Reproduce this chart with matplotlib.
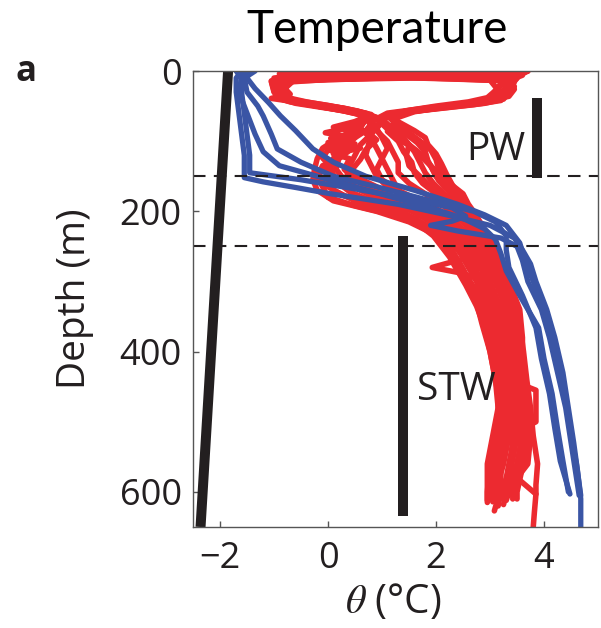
import matplotlib
matplotlib.use('Agg')
import matplotlib.pyplot as plt

# potential temperature profiles, each a list of (depth m, theta degC)
red_profiles = [
    [(0, 3.7), (4, 3.5), (10, 1.0), (15, -1.0), (28, -0.95), (38, -0.9), (44, -0.6), (50, -0.1), (57, 0.4), (64, 0.75),
     (80, 0.6), (95, 0.2), (110, -0.1), (125, -0.2), (140, -0.25), (155, -0.28), (170, -0.2), (185, 0.1), (200, 0.9),
     (215, 1.5), (230, 1.9), (245, 2.1), (260, 2.3), (280, 2.45), (300, 2.6), (330, 2.75), (360, 2.85), (400, 3.0),
     (440, 3.1), (480, 3.15), (520, 3.05), (560, 2.95), (600, 2.95), (615, 2.95)],
    [(0, 3.2), (4, 3.3), (9, 0.5), (13, -0.9), (26, -1.0), (36, -0.95), (42, -0.7), (48, -0.3), (55, 0.2), (63, 0.7),
     (80, 0.8), (95, 0.5), (110, 0.3), (125, 0.2), (140, 0.0), (155, 0.0), (170, 0.1), (185, 0.5), (200, 1.2),
     (215, 1.7), (230, 2.1), (245, 2.3), (260, 2.45), (280, 2.6), (300, 2.75), (330, 2.9), (360, 3.0), (400, 3.1),
     (440, 3.2), (480, 3.25), (520, 3.2), (560, 3.05), (600, 3.0), (610, 3.0)],
    [(0, 2.5), (6, 3.4), (11, -0.5), (15, -1.05), (30, -1.0), (40, -0.8), (46, -0.5), (52, 0.0), (58, 0.5), (66, 0.8),
     (82, 0.3), (88, -0.05), (95, 0.5), (102, 0.0), (110, 0.6), (118, 0.1), (125, 0.4), (140, 0.3), (155, 0.5),
     (170, 0.8), (185, 1.3), (200, 1.7), (215, 2.0), (230, 2.3), (245, 2.5), (260, 2.6), (280, 2.7), (300, 2.85),
     (330, 3.0), (360, 3.1), (400, 3.2), (440, 3.3), (480, 3.35), (520, 3.3), (560, 3.2), (600, 3.2), (620, 3.15)],
    [(0, 3.5), (6, 2.0), (11, -0.6), (25, -0.8), (33, -0.7), (39, -1.05), (44, -0.6), (50, -0.2), (57, 0.3), (64, 0.7),
     (85, 0.9), (100, 1.1), (115, 1.2), (130, 1.3), (145, 1.3), (160, 1.5), (175, 1.8), (190, 2.1), (205, 2.35),
     (220, 2.55), (235, 2.7), (250, 2.85), (265, 2.7), (272, 2.3), (280, 1.93), (287, 2.4), (300, 2.95), (330, 3.15),
     (370, 3.3), (420, 3.4), (460, 3.45), (500, 3.5), (540, 3.45), (580, 3.35), (605, 3.3)],
    [(0, -0.5), (4, -0.9), (9, 1.5), (14, 3.4), (26, 3.45), (36, 3.35), (42, 3.0), (48, 2.4), (54, 1.7), (60, 1.1),
     (68, 0.9), (90, 1.2), (105, 1.5), (120, 1.75), (135, 1.9), (150, 2.0), (165, 2.15), (180, 2.35), (195, 2.55),
     (210, 2.7), (225, 2.8), (240, 2.9), (255, 3.0), (275, 3.1), (300, 3.25), (330, 3.4), (360, 3.5), (400, 3.6),
     (440, 3.65), (480, 3.7), (520, 3.75), (560, 3.7), (580, 3.5), (603, 3.85), (630, 3.82), (650, 3.8)],
    [(0, 0.5), (4, -0.6), (9, 2.0), (14, 3.3), (30, 3.35), (40, 3.25), (46, 2.9), (52, 2.2), (58, 1.5), (64, 1.1),
     (85, 1.4), (100, 1.7), (115, 1.95), (130, 2.05), (145, 2.15), (160, 2.25), (175, 2.5), (190, 2.6), (205, 2.74),
     (220, 2.85), (235, 2.95), (250, 3.1), (265, 3.2), (285, 3.3), (310, 3.4), (340, 3.55), (380, 3.6), (420, 3.6),
     (448, 3.62), (455, 3.85), (470, 3.85), (500, 3.85), (510, 3.6), (520, 3.65), (540, 3.7), (560, 3.55),
     (575, 3.4), (590, 3.2), (603, 3.17), (627, 3.08)],
    [(0, 3.7), (8, 3.5), (15, 3.2), (22, 3.45), (32, 3.3), (42, 3.2), (48, 2.7), (54, 2.0), (60, 1.3), (68, 1.0),
     (90, 0.8), (105, 0.75), (120, 0.7), (135, 0.8), (150, 0.9), (165, 1.1), (180, 1.5), (195, 1.9), (210, 2.2),
     (225, 2.4), (240, 2.55), (255, 2.7), (270, 2.8), (290, 2.95), (310, 3.05), (340, 3.2), (380, 3.3), (420, 3.35),
     (460, 3.4), (500, 3.45), (540, 3.4), (580, 3.3), (610, 3.25)],
    [(0, 1.0), (6, 2.5), (12, 3.3), (28, 3.1), (38, 3.0), (44, 2.8), (50, 2.2), (56, 1.6), (63, 1.2), (85, 1.3),
     (100, 1.45), (115, 1.6), (130, 1.7), (145, 1.8), (160, 1.95), (175, 2.15), (190, 2.4), (205, 2.6), (220, 2.7),
     (235, 2.8), (250, 2.9), (265, 2.95), (285, 3.05), (305, 3.15), (335, 3.3), (365, 3.4), (400, 3.5), (440, 3.55),
     (480, 3.6), (520, 3.6), (560, 3.5), (600, 3.35), (612, 3.3)],
    [(0, 3.0), (5, 2.0), (10, -0.9), (20, -0.9), (30, -0.85), (40, -0.75), (46, -0.4), (53, 0.3), (62, 0.8), (72, 0.5),
     (80, 0.1), (88, 0.6), (96, 0.05), (104, 0.5), (112, 0.0), (120, 0.3), (135, -0.1), (150, -0.2), (165, -0.1),
     (180, 0.0), (192, 0.5), (205, 1.2), (220, 1.7), (235, 2.0), (250, 2.2), (270, 2.4), (290, 2.55), (320, 2.8),
     (360, 2.95), (400, 3.05), (440, 3.15), (480, 3.2), (520, 3.15), (560, 3.05), (600, 3.0), (608, 3.0)],
    [(0, 3.6), (5, 3.3), (10, 3.5), (16, 3.4), (26, 3.35), (36, 3.3), (42, 3.0), (48, 2.5), (54, 1.9), (60, 1.3),
     (68, 1.0), (92, 1.2), (106, 1.5), (120, 1.7), (135, 1.9), (150, 2.1), (165, 2.3), (180, 2.45), (195, 2.55),
     (210, 2.6), (225, 2.7), (240, 2.8), (255, 2.9), (270, 3.0), (290, 3.1), (310, 3.2), (340, 3.3), (380, 3.4),
     (420, 3.5), (460, 3.55), (500, 3.6), (540, 3.55), (580, 3.45), (605, 3.4)],
    [(0, 2.0), (4, 3.4), (8, 3.0), (12, 0.0), (16, -0.8), (38, -0.75), (44, -0.4), (52, 0.2), (60, 0.7), (70, 1.0),
     (90, 0.8), (105, 0.6), (120, 0.5), (135, 0.4), (150, 0.35), (165, 0.5), (178, 0.8), (190, 1.4), (205, 1.9),
     (220, 2.2), (235, 2.4), (250, 2.55), (265, 2.7), (285, 2.85), (305, 2.95), (335, 3.1), (370, 3.2), (410, 3.3),
     (450, 3.35), (490, 3.3), (530, 3.2), (570, 3.1), (600, 3.05)],
    [(0, 3.4), (5, 3.0), (11, 3.3), (18, 3.2), (28, 3.1), (38, 2.95), (44, 2.6), (50, 2.0), (56, 1.5), (63, 1.1),
     (82, 0.9), (95, 1.0), (110, 1.1), (125, 1.0), (140, 0.9), (155, 1.0), (170, 1.3), (185, 1.7), (200, 2.1),
     (215, 2.35), (230, 2.55), (245, 2.7), (260, 2.8), (280, 2.9), (300, 3.0), (330, 3.15), (360, 3.25), (400, 3.3),
     (440, 3.35), (480, 3.4), (520, 3.35), (560, 3.25), (600, 3.1), (612, 3.05)],
    [(0, 0.0), (4, -0.8), (8, 0.8), (13, 3.0), (32, 3.2), (42, 3.0), (48, 2.5), (54, 1.8), (60, 1.2), (68, 1.0),
     (90, 1.3), (105, 1.5), (120, 1.45), (135, 1.5), (150, 1.7), (165, 1.9), (180, 2.1), (195, 2.3), (210, 2.5),
     (225, 2.6), (240, 2.7), (255, 2.85), (275, 2.95), (300, 3.1), (330, 3.25), (360, 3.35), (400, 3.45), (440, 3.5),
     (480, 3.55), (520, 3.5), (560, 3.4), (600, 3.3), (618, 3.25)],
    [(0, 2.8), (4, 3.3), (9, 1.0), (14, -0.9), (28, -1.0), (38, -0.9), (44, -0.6), (50, -0.2), (57, 0.3), (64, 0.7),
     (82, 0.6), (96, 0.8), (110, 0.9), (125, 1.0), (140, 1.1), (155, 1.2), (170, 1.3), (185, 1.5), (200, 1.9),
     (215, 2.2), (230, 2.4), (245, 2.6), (260, 2.75), (280, 2.9), (300, 3.0), (330, 3.1), (360, 3.2), (400, 3.25),
     (440, 3.3), (480, 3.3), (520, 3.2), (560, 3.1), (600, 3.0)],
    [(0, 3.5), (6, 3.6), (12, 3.4), (20, 3.35), (30, 3.2), (40, 3.0), (46, 2.6), (52, 2.0), (58, 1.5), (66, 1.2),
     (88, 1.5), (100, 1.7), (112, 1.9), (126, 2.0), (140, 2.05), (155, 2.15), (170, 2.35), (185, 2.5), (200, 2.65),
     (215, 2.75), (230, 2.85), (245, 3.0), (260, 3.1), (280, 3.2), (300, 3.3), (330, 3.45), (360, 3.55), (400, 3.62),
     (440, 3.68), (480, 3.75), (520, 3.8), (560, 3.88), (590, 3.85), (603, 3.85)],
    [(0, 3.6), (4, 0.0), (8, -0.8), (14, -1.05), (28, -1.0), (38, -0.95), (44, -0.7), (50, -0.2), (57, 0.4), (64, 0.7),
     (80, 0.9), (95, 0.3), (110, 0.2), (125, 0.1), (140, -0.1), (152, -0.2), (165, 0.0), (178, 0.3), (190, 0.9),
     (205, 1.45), (220, 1.7), (235, 1.95), (250, 2.1), (265, 2.25), (285, 2.4), (305, 2.55), (335, 2.75), (365, 2.9),
     (400, 3.0), (440, 3.1), (480, 3.2), (520, 3.1), (560, 3.0), (600, 2.95), (612, 2.95)],
    [(0, 3.3), (5, 3.1), (10, -0.2), (15, -1.0), (30, -0.9), (40, -0.8), (46, -0.45), (53, 0.25), (62, 0.65),
     (80, 0.5), (95, 0.35), (110, 0.45), (125, 0.2), (140, 0.15), (155, 0.3), (170, 0.6), (185, 1.1), (200, 1.55),
     (215, 1.9), (230, 2.15), (245, 2.35), (260, 2.5), (280, 2.65), (300, 2.8), (330, 2.95), (360, 3.05), (400, 3.15),
     (440, 3.25), (480, 3.3), (520, 3.25), (560, 3.15), (600, 3.1), (612, 3.1)],
    [(0, 3.65), (6, 3.4), (12, 3.45), (20, 3.3), (30, 3.25), (40, 3.15), (46, 2.7), (52, 2.1), (58, 1.6), (66, 1.3),
     (86, 1.1), (100, 1.3), (115, 1.4), (130, 1.55), (145, 1.6), (160, 1.75), (175, 2.0), (190, 2.25), (205, 2.45),
     (220, 2.6), (235, 2.75), (250, 2.85), (265, 2.95), (285, 3.05), (310, 3.2), (340, 3.35), (380, 3.45), (420, 3.5),
     (460, 3.6), (500, 3.65), (540, 3.6), (580, 3.5), (606, 3.45)],
    [(0, 3.0), (4, 3.55), (8, 2.0), (13, -0.7), (24, -0.95), (34, -0.85), (42, -0.6), (49, 0.0), (57, 0.55), (66, 0.9),
     (85, 0.7), (98, 0.9), (112, 0.7), (126, 0.6), (140, 0.45), (152, 0.55), (165, 0.9), (180, 1.2), (195, 1.6),
     (210, 1.95), (225, 2.2), (240, 2.4), (255, 2.55), (275, 2.7), (295, 2.8), (325, 2.95), (355, 3.05), (395, 3.15),
     (435, 3.2), (475, 3.25), (515, 3.25), (555, 3.15), (595, 3.05), (614, 3.05)],
    [(0, 1.5), (5, 2.8), (10, 3.5), (20, 3.4), (30, 3.3), (40, 3.1), (46, 2.6), (52, 1.9), (58, 1.4), (66, 1.15),
     (85, 1.6), (95, 1.8), (105, 1.85), (118, 2.0), (132, 2.1), (148, 2.2), (162, 2.3), (178, 2.45), (192, 2.6),
     (208, 2.7), (222, 2.8), (238, 2.95), (255, 3.05), (275, 3.15), (300, 3.25), (330, 3.35), (365, 3.5), (405, 3.58),
     (445, 3.62), (485, 3.7), (525, 3.7), (565, 3.6), (600, 3.5), (610, 3.5)],
    [(0, 2.2), (5, -0.4), (10, -1.0), (20, -1.0), (30, -0.95), (40, -0.85), (46, -0.6), (52, -0.1), (58, 0.45),
     (68, 0.75), (88, 0.4), (100, 0.1), (112, 0.0), (124, -0.1), (136, 0.05), (148, 0.1), (160, 0.2), (172, 0.4),
     (185, 0.8), (198, 1.3), (212, 1.65), (228, 1.95), (244, 2.2), (262, 2.35), (282, 2.5), (305, 2.65), (335, 2.8),
     (370, 2.95), (410, 3.05), (450, 3.15), (490, 3.15), (530, 3.05), (570, 2.98), (605, 2.98)],
    [(0, 3.7), (4, 3.5), (9, 3.2), (15, 3.45), (25, 3.4), (35, 3.3), (41, 3.05), (47, 2.6), (53, 2.0), (59, 1.4),
     (67, 1.2), (90, 1.45), (102, 1.65), (115, 1.8), (128, 1.85), (142, 1.95), (156, 2.05), (170, 2.25), (184, 2.4),
     (198, 2.55), (212, 2.65), (228, 2.75), (243, 2.85), (258, 2.95), (278, 3.05), (300, 3.15), (330, 3.3),
     (360, 3.45), (400, 3.55), (440, 3.6), (480, 3.65), (520, 3.68), (560, 3.6), (600, 3.45), (610, 3.42)],
]

blue_profiles = [
    [(0, -1.6), (10, -1.7), (30, -1.7), (60, -1.65), (90, -1.6), (120, -1.55), (140, -1.55), (152, -1.55), (158, -1.2),
     (166, -0.6), (175, 0.05), (190, 1.3), (205, 2.2), (220, 3.0), (238, 3.45), (255, 3.6), (275, 3.75), (300, 3.85),
     (340, 4.05), (380, 4.2), (430, 4.35), (480, 4.45), (530, 4.55), (570, 4.62), (610, 4.68), (650, 4.68)],
    [(0, -1.5), (10, -1.6), (30, -1.6), (60, -1.55), (90, -1.5), (120, -1.45), (138, -1.45), (145, -1.45), (155, -0.5),
     (168, 0.5), (182, 1.5), (195, 2.3), (207, 2.55), (214, 2.3), (220, 1.9), (228, 2.4), (238, 3.2), (250, 3.5),
     (270, 3.6), (300, 3.7), (340, 3.95), (380, 4.1), (430, 4.25), (480, 4.4), (530, 4.5), (570, 4.58), (605, 4.65)],
    [(0, -1.45), (10, -1.5), (25, -1.35), (45, -1.1), (64, -0.88), (85, -0.6), (111, -0.28), (130, 0.1), (150, 0.7),
     (170, 1.6), (190, 2.4), (205, 2.9), (220, 3.3), (245, 3.55), (270, 3.65), (300, 3.8), (360, 4.1), (420, 4.3),
     (470, 4.4), (520, 4.5), (560, 4.6), (605, 4.68)],
    [(0, -1.35), (10, -1.55), (30, -1.5), (50, -1.3), (64, -1.2), (90, -1.05), (111, -0.94), (130, -0.5), (150, 0.1),
     (165, 0.9), (185, 1.9), (200, 2.7), (215, 3.1), (235, 3.3), (255, 3.3), (280, 3.35), (320, 3.6), (366, 3.85),
     (410, 3.95), (460, 4.1), (510, 4.2), (556, 4.3), (603, 4.48)],
    [(0, -1.7), (10, -1.6), (30, -1.65), (60, -1.5), (90, -1.35), (115, -1.2), (135, -0.9), (150, -0.2), (165, 0.5),
     (180, 1.2), (195, 1.9), (210, 2.5), (225, 2.9), (240, 3.1), (260, 3.2), (285, 3.3), (320, 3.55), (366, 3.9),
     (410, 4.0), (460, 4.15), (510, 4.25), (556, 4.35), (600, 4.45)],
]

# freezing point line
freeze_temp = [-1.85, -2.36]
freeze_depth = [0, 650]

# water mass layers
layer_names = ['PW', 'STW']
layer_x = [3.87, 1.39]
layer_top = [39, 235]
layer_bottom = [153, 635]
label_x = [3.11, 2.38]
label_depth = [113, 455]

boundaries = [150, 250]

RED = '#ec2a30'
BLUE = '#3a55a5'
INK = '#231f20'

plt.rcParams['font.family'] = ['Open Sans', 'DejaVu Sans']
plt.rcParams['mathtext.fontset'] = 'stix'

fig = plt.figure(figsize=(6.01, 6.28), dpi=100)
ax = fig.add_axes([0.3211, 0.1608, 0.674, 0.7261])

for prof in red_profiles:
    z, t = zip(*prof)
    ax.plot(t, z, color=RED, lw=4.0, solid_joinstyle='round', solid_capstyle='round')
for prof in blue_profiles:
    z, t = zip(*prof)
    ax.plot(t, z, color=BLUE, lw=3.8, solid_joinstyle='round', solid_capstyle='round')

ax.plot(freeze_temp, freeze_depth, color=INK, lw=7.2, solid_capstyle='butt')

for d in boundaries:
    ax.axhline(d, color=INK, lw=1.5, dashes=(6, 4))

for name, x, top, bot, lx, ld in zip(layer_names, layer_x, layer_top, layer_bottom, label_x, label_depth):
    ax.plot([x, x], [top, bot], color=INK, lw=7.2, solid_capstyle='butt')
    ax.text(lx, ld, name, fontsize=28, color=INK, ha='center', va='center')

ax.set_xlim(-2.5, 5)
ax.set_ylim(650, 0)
ax.set_xticks([-2, 0, 2, 4])
ax.set_xticklabels(['\u22122', '0', '2', '4'])
ax.set_yticks([0, 200, 400, 600])

ax.tick_params(direction='in', length=4, width=1, colors='#555555',
               labelcolor=INK, labelsize=26)
ax.tick_params(axis='x', pad=10)
ax.tick_params(axis='y', pad=8)
for s in ax.spines.values():
    s.set_color('#555555')
    s.set_linewidth(1)

ax.set_ylabel('Depth (m)', fontsize=28, color=INK)
ax.yaxis.set_label_coords(-0.245, 0.5)
ax.set_xlabel(r'$\theta$ (°C)', fontsize=29, color=INK)
ax.xaxis.set_label_coords(0.494, -0.122)

fig.text(0.627, 1 - 43 / 628, 'Temperature', fontsize=33, color='black',
         ha='center', va='baseline', family=['Lato', 'DejaVu Sans'])
fig.text(0.025, 0.885, 'a', fontsize=25, fontweight='bold', color=INK, va='center')

fig.savefig('out.png', dpi=100)
